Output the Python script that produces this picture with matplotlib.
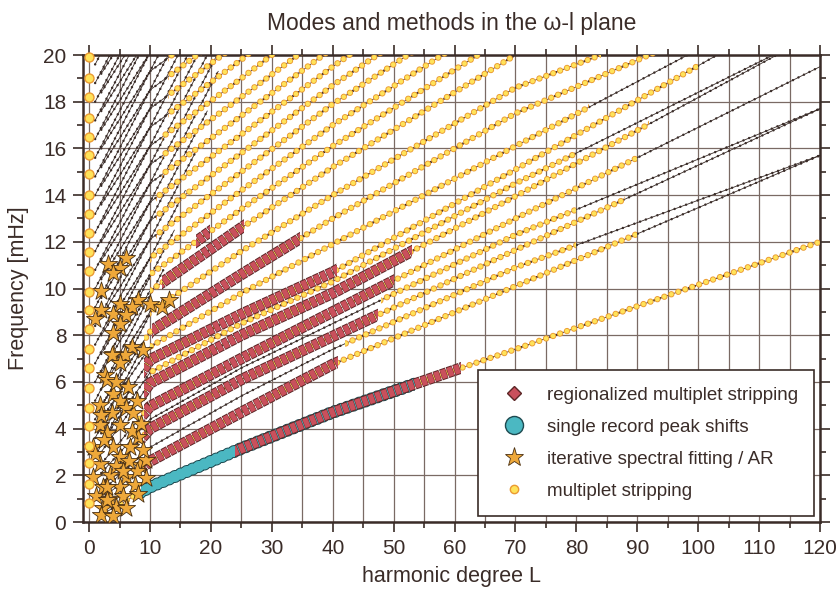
import numpy as np
import matplotlib
matplotlib.use('Agg')
import matplotlib.pyplot as plt
from matplotlib.lines import Line2D
from matplotlib.patches import Rectangle
from matplotlib.ticker import MultipleLocator

plt.rcParams['font.family'] = ['Liberation Sans', 'DejaVu Sans']
plt.rcParams['lines.scale_dashes'] = False

ink = '#3a2c28'
grid_col = '#7a6a64'
dot_fill, dot_edge = '#ffe35a', '#eb9a32'
red_fill, red_edge = '#c9505c', '#5b2626'
cyan_fill, cyan_edge = '#4bb8c2', '#1e4a50'
star_fill, star_edge = '#eea83a', '#4a3012'

nan = np.nan

# radial modes (l = 0), mHz
radial_f = [0.81, 1.63, 2.51, 3.27, 4.11, 4.88, 5.74, 6.58, 7.43, 8.26, 9.08, 9.86,
            10.74, 11.56, 12.37, 13.2, 14.0, 14.9, 15.7, 16.5, 17.3, 18.2, 19.0, 19.9]

# branch frequencies read at these harmonic degrees
fan_l = [2, 10, 25, 40, 70, 120]

# lower branches (fundamental first)
lower_fan_f = [
    [0.31, 1.50, 3.15, 4.70, 7.40, 12.0],
    [1.00, 2.60, 4.70, 6.75, 10.1, 15.7],
    [1.30, 3.20, 5.40, 7.40, 10.9, 15.7],
    [1.60, 4.00, 6.10, 7.95, 11.65, 17.7],
    [2.10, 4.40, 6.60, 8.50, 12.3, 17.7],
    [2.50, 4.95, 7.00, 9.00, 13.0, 19.5],
    [3.00, 5.95, 8.00, 9.80, 13.95, 21.0],
    [3.40, 6.40, 8.50, 10.3, 14.5, 21.0],
    [3.80, 6.95, 8.90, 10.7, 15.1, 22.5],
    [4.40, 7.50, 9.80, 11.9, 16.1, 23.0],
    [5.00, 8.15, 10.6, 13.0, 17.5, 23.2],
    [5.70, 9.00, 11.6, 14.0, 18.6, 23.6],
    [6.40, 9.90, 12.6, 15.2, 20.0, nan],
]
lower_dot_start = [5, 8, 42, 8, 48, 8, 9, 10, 9, 10, 9, 10, 10]
lower_dot_end = [120, 90, 80, 88, 80, 90, 92, 80, 100, 82, 95, 84, 120]

# upper branches
upper_fan_f = [
    [7.2, 10.6, 13.4, 16.1, 21.0, nan],
    [8.0, 11.3, 14.2, 17.0, 22.0, nan],
    [8.8, 12.1, 15.0, 17.9, 23.0, nan],
    [9.6, 12.9, 15.8, 18.7, 24.0, nan],
    [10.4, 13.7, 16.6, 19.5, 25.0, nan],
    [11.2, 14.5, 17.4, 20.3, nan, nan],
    [12.0, 15.3, 18.2, 21.1, nan, nan],
    [12.8, 16.1, 19.0, 22.0, nan, nan],
    [13.6, 16.9, 19.8, 23.0, nan, nan],
    [14.4, 17.7, 20.6, nan, nan, nan],
    [15.2, 18.5, 21.4, nan, nan, nan],
    [16.0, 19.3, 22.2, nan, nan, nan],
    [16.8, 20.1, nan, nan, nan, nan],
    [17.6, 20.9, nan, nan, nan, nan],
    [18.4, 21.7, nan, nan, nan, nan],
    [19.2, 22.5, nan, nan, nan, nan],
]
upper_dot_start = [10, 10, 11, 11, 11, 12, 12, 12, 13, 13, 13, 13, 99, 99, 99, 99]

# steep low-degree branches: start and end points
steep_l0 = [1] * 22
steep_f0 = [2.8, 3.6, 4.4, 5.2, 6.0, 6.8, 7.6, 8.4, 9.2, 10.0, 10.8, 11.6,
            12.4, 13.2, 14.0, 14.8, 15.6, 16.4, 17.2, 18.0, 18.8, 19.6]
steep_l1 = [6.8, 8.6, 10.4, 12.2, 14.0, 15.8, 17.6, 19.4, 21.2, 21.0, 19.4, 17.8,
            16.2, 14.6, 13.0, 11.4, 9.8, 8.2, 6.6, 5.0, 3.4, 1.8]
steep_f1 = [5.7, 7.4, 9.1, 10.8, 12.5, 14.2, 15.9, 17.6, 19.3, 20, 20, 20,
            20, 20, 20, 20, 20, 20, 20, 20, 20, 20]

# regionalized multiplet stripping: lower branch index and degree range
ribbon_row = [0, 1, 3, 5, 6, 8, 10, 12]
ribbon_start = [24, 9, 9, 9, 9, 9, 10.3, 12]
ribbon_end = [61, 40.8, 47.5, 50, 53, 40.7, 34.6, 25.5]
short_ribbon = (0, 17.5, 19.8)   # upper branch, l from, l to

# single record peak shifts along the fundamental
cyan_start, cyan_end = 8.5, 53.5

# iterative spectral fitting / AR
star_l = [3.1, 6.1, 5.0, 3.9, 2.0, 5.0, 8.0, 10.0, 7.0, 11.9, 13.2, 2.0, 3.9, 6.1, 0.9,
          5.0, 3.9, 7.0, 8.9, 3.9, 5.9, 3.7, 5.0, 2.6, 2.9, 3.9, 5.0, 1.8, 6.1, 7.2,
          3.7, 1.8, 5.0, 2.9, 8.0, 0.7, 3.9, 6.7, 5.0, 1.8, 8.3, 0.7, 3.4, 6.1, 2.3,
          5.0, 7.5, 1.2, 3.4, 5.6, 2.3, 4.5, 2.0, 7.8, 9.4,
          1.0, 2.5, 4.5, 6.5, 7.0, 8.8, 3.0, 6.0, 4.0, 8.0, 9.3, 2.0, 4.4, 6.4, 7.9,
          8.6, 3.0, 5.5]
star_f = [11.05, 11.3, 10.9, 10.65, 9.9, 9.35, 9.5, 9.35, 9.2, 9.2, 9.5, 9.1, 8.9, 8.85, 8.7,
          8.5, 8.1, 7.5, 7.35, 7.2, 7.15, 7.15, 6.8, 6.3, 6.1, 5.5, 5.2, 5.0, 4.9, 4.65,
          4.65, 4.15, 4.15, 3.8, 3.65, 3.2, 3.2, 3.2, 2.8, 2.5, 2.45, 1.95, 2.0, 1.95, 1.5,
          1.5, 1.6, 1.1, 1.0, 1.1, 0.6, 0.65, 0.3, 2.2, 2.65,
          2.9, 3.5, 2.4, 2.6, 3.9, 3.1, 1.5, 0.6, 0.25, 1.2, 1.9, 4.6, 6.0, 5.8, 5.2,
          4.2, 0.95, 2.2]

fig = plt.figure(figsize=(8.38, 5.98), dpi=100)
ax = fig.add_axes([0.099, 0.127, 0.8795, 0.781])
ax.set_xlim(-1, 120)
ax.set_ylim(0, 20)


def clip(line, l0, l1):
    l0, l1 = max(l0, -1), min(l1, 120)
    line.set_clip_path(Rectangle((l0, 0), l1 - l0, 20, transform=ax.transData))


def black_branch(l, f):
    ax.plot(l, f, color=ink, lw=0.6, zorder=2)
    ax.plot(l, f, color=ink, lw=1.8, ls=(0, (0.01, 4.4)), dash_capstyle='round', zorder=2)


def yellow_dots(l, f, l0, l1):
    a, = ax.plot(l, f, color=dot_edge, lw=4.6, ls=(0, (0.01, 5.3)), dash_capstyle='round', zorder=3)
    b, = ax.plot(l, f, color=dot_fill, lw=3.3, ls=(0, (0.01, 5.3)), dash_capstyle='round', zorder=3)
    clip(a, l0, l1)
    clip(b, l0, l1)


def red_ribbon(l, f, l0, l1):
    a, = ax.plot(l, f, color=red_edge, lw=8.2, ls=(0, (4.4, 0.6)), dash_capstyle='butt', zorder=5)
    b, = ax.plot(l, f, color=red_fill, lw=6.8, ls=(4.7, (3.8, 1.2)), dash_capstyle='butt', zorder=5)
    clip(a, l0, l1)
    clip(b, l0, l1)


for i in range(len(steep_f0)):
    black_branch([steep_l0[i], steep_l1[i]], [steep_f0[i], steep_f1[i]])

for i, f in enumerate(lower_fan_f):
    black_branch(fan_l, f)
    yellow_dots(fan_l, f, lower_dot_start[i], lower_dot_end[i])

for i, f in enumerate(upper_fan_f):
    black_branch(fan_l, f)
    yellow_dots(fan_l, f, upper_dot_start[i], 120)

# cyan band along the fundamental
c1, = ax.plot(fan_l, lower_fan_f[0], color=cyan_edge, lw=9.4, ls=(0, (0.01, 4.6)),
              dash_capstyle='round', zorder=4)
c2, = ax.plot(fan_l, lower_fan_f[0], color=cyan_fill, lw=8.0, ls=(0, (0.01, 4.6)),
              dash_capstyle='round', zorder=4)
clip(c1, cyan_start, cyan_end)
clip(c2, cyan_start, cyan_end)

for r, l0, l1 in zip(ribbon_row, ribbon_start, ribbon_end):
    red_ribbon(fan_l, lower_fan_f[r], l0, l1)
red_ribbon(fan_l, upper_fan_f[short_ribbon[0]], short_ribbon[1], short_ribbon[2])

ax.scatter(star_l, star_f, marker='*', s=190, facecolor=star_fill, edgecolor=star_edge,
           linewidth=0.6, zorder=6)
ax.scatter([0] * len(radial_f), radial_f, s=42, facecolor=dot_fill, edgecolor=dot_edge,
           linewidth=1.0, zorder=6, clip_on=False)

# axes styling
ax.xaxis.set_major_locator(MultipleLocator(10))
ax.xaxis.set_minor_locator(MultipleLocator(5))
ax.yaxis.set_major_locator(MultipleLocator(2))
ax.yaxis.set_minor_locator(MultipleLocator(1))
ax.grid(which='major', color=grid_col, lw=0.9, zorder=0)
ax.grid(which='minor', axis='x', color=grid_col, lw=0.9, zorder=0)
ax.set_axisbelow(True)
ax.tick_params(which='both', direction='out', top=True, right=True, colors=ink,
               width=1.2, labelsize=15, pad=5)
ax.tick_params(which='major', length=7)
ax.tick_params(which='minor', length=4)
for s in ax.spines.values():
    s.set_linewidth(1.8)
    s.set_color(ink)

ax.set_xlabel('harmonic degree L', fontsize=15.5, color=ink, labelpad=6)
ax.set_ylabel('Frequency [mHz]', fontsize=15.5, color=ink, labelpad=10)
ax.set_title('Modes and methods in the ω-l plane', fontsize=16.5, color=ink, pad=18)

handles = [
    Line2D([], [], ls='none', marker='D', ms=7, mfc=red_fill, mec=red_edge),
    Line2D([], [], ls='none', marker='o', ms=13, mfc=cyan_fill, mec=cyan_edge),
    Line2D([], [], ls='none', marker='*', ms=14, mfc=star_fill, mec=star_edge, mew=0.6),
    Line2D([], [], ls='none', marker='o', ms=6, mfc=dot_fill, mec=dot_edge),
]
labels = ['regionalized multiplet stripping', 'single record peak shifts',
          'iterative spectral fitting / AR', 'multiplet stripping']
leg = ax.legend(handles, labels, loc='lower right', bbox_to_anchor=(1, 0), fontsize=13.5,
                fancybox=False, framealpha=1, edgecolor=ink, borderpad=0.85,
                labelspacing=0.8, handlelength=2.1, handletextpad=0.7, borderaxespad=0.33)
leg.get_frame().set_linewidth(1.2)
leg.set_zorder(10)
for t in leg.get_texts():
    t.set_color(ink)

fig.savefig('out.png', dpi=100, facecolor='white')
